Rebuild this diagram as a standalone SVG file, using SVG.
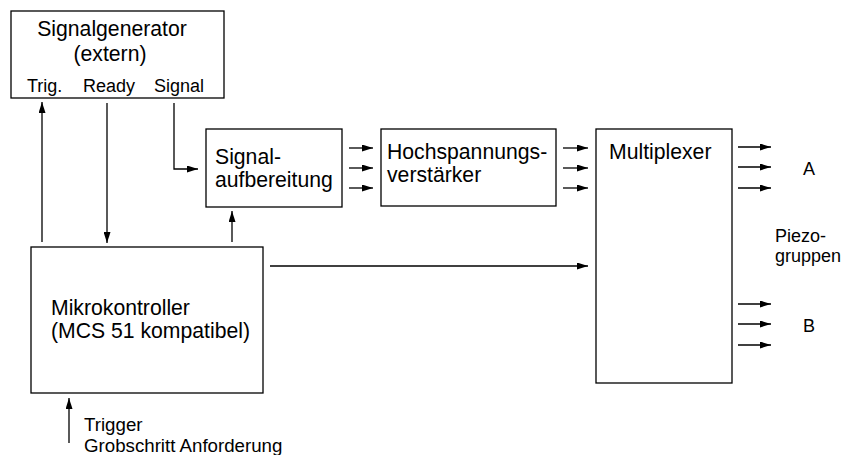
<svg xmlns="http://www.w3.org/2000/svg" width="844" height="455" viewBox="0 0 844 455">
<defs>
<marker id="ah" markerUnits="userSpaceOnUse" markerWidth="11" markerHeight="7" refX="11" refY="3.5" orient="auto">
<path d="M0,0 L11,3.5 L0,7 z" fill="#000"/>
</marker>
<style>
.box{fill:#fff;stroke:#000;stroke-width:1.3}
.t{font-family:"Liberation Sans",Arial,Helvetica,sans-serif;font-size:21.2px;fill:#000}
.s{font-family:"Liberation Sans",Arial,Helvetica,sans-serif;font-size:18px;fill:#000}
.g{font-family:"Liberation Sans",Arial,Helvetica,sans-serif;font-size:18.7px;fill:#000}
.c{fill:none;stroke:#000;stroke-width:1.3;marker-end:url(#ah)}
</style>
</defs>
<rect width="844" height="455" fill="#fff"/>
<g id="signalgenerator">
<rect class="box" x="11" y="11" width="213" height="87"/>
<text class="t" x="112" y="36" text-anchor="middle">Signalgenerator</text>
<text class="t" x="110" y="61" text-anchor="middle">(extern)</text>
<text class="s" x="27" y="92">Trig.</text>
<text class="s" x="83" y="92">Ready</text>
<text class="s" x="154" y="92">Signal</text>
</g>
<g id="signalaufbereitung">
<rect class="box" x="206" y="129" width="136" height="78"/>
<text class="t" x="215" y="164">Signal-</text>
<text class="t" x="215" y="187">aufbereitung</text>
</g>
<g id="hochspannungsverstaerker">
<rect class="box" x="381" y="129" width="175" height="77"/>
<text class="t" x="387" y="159">Hochspannungs-</text>
<text class="t" x="387" y="182">verstärker</text>
</g>
<g id="multiplexer">
<rect class="box" x="596" y="129" width="136" height="254"/>
<text class="t" x="609" y="159">Multiplexer</text>
</g>
<g id="mikrokontroller">
<rect class="box" x="31" y="247" width="232" height="146"/>
<text class="t" x="51" y="315">Mikrokontroller</text>
<text class="t" x="51" y="338">(MCS 51 kompatibel)</text>
</g>
<g id="labels">
<text class="s" x="809" y="175" text-anchor="middle">A</text>
<text class="s" x="809" y="332" text-anchor="middle">B</text>
<text class="s" x="775" y="242">Piezo-</text>
<text class="s" x="775" y="262">gruppen</text>
<text class="g" x="84" y="431">Trigger</text>
<text class="g" x="84" y="452">Grobschritt Anforderung</text>
</g>
<g id="connectors">
<path class="c" d="M42,242 V102"/>
<path class="c" d="M107,103 V243"/>
<path class="c" d="M174,103 V169 H198"/>
<path class="c" d="M232,242 V211"/>
<path class="c" d="M270,266 H588"/>
<path class="c" d="M349,148 H373"/>
<path class="c" d="M349,168 H373"/>
<path class="c" d="M349,188 H373"/>
<path class="c" d="M563,148 H588"/>
<path class="c" d="M563,168 H588"/>
<path class="c" d="M563,188 H588"/>
<path class="c" d="M738,147 H771"/>
<path class="c" d="M738,167 H771"/>
<path class="c" d="M738,188 H771"/>
<path class="c" d="M738,304 H771"/>
<path class="c" d="M738,324 H771"/>
<path class="c" d="M738,345 H771"/>
<path class="c" d="M69,443 V398"/>
</g>
</svg>
